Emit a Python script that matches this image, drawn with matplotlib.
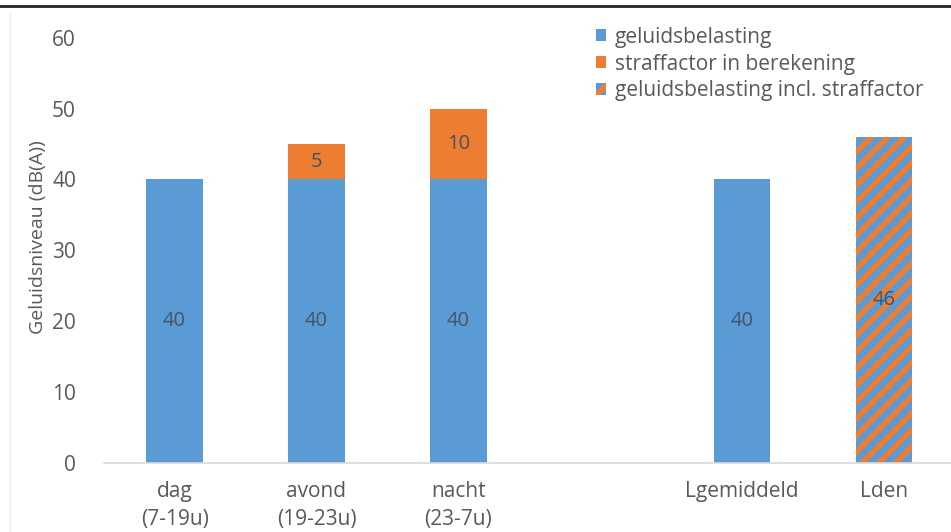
import matplotlib.pyplot as plt
from matplotlib.patches import Patch
from matplotlib.lines import Line2D

# data
categories = ["dag\n(7-19u)", "avond\n(19-23u)", "nacht\n(23-7u)", "", "Lgemiddeld", "Lden"]
geluid = [40, 40, 40, None, 40, None]
straf = [None, 5, 10, None, None, None]
lden = [None, None, None, None, None, 46]
yticks = [0, 10, 20, 30, 40, 50, 60]

blue = "#5B9BD5"
orange = "#ED7D31"
grey = "#595959"

plt.rcParams["font.family"] = ["Open Sans", "DejaVu Sans"]
plt.rcParams["hatch.linewidth"] = 4.5

fig = plt.figure(figsize=(9.51, 5.32), dpi=100)
ax = fig.add_axes([0.109, 0.13, 0.895, 0.799])

x = list(range(len(categories)))
w = 0.4
lbl = dict(ha="center", va="center", fontsize=14.5, color="#44546A", zorder=3)

for i in x:
    if geluid[i] is not None:
        ax.bar(i, geluid[i], width=w, color=blue, zorder=2)
        ax.text(i, geluid[i] / 2, str(geluid[i]), **lbl)
    if straf[i] is not None:
        ax.bar(i, straf[i], width=w, bottom=geluid[i], color=orange, zorder=2)
        ax.text(i, geluid[i] + straf[i] / 2, str(straf[i]), **lbl)
    if lden[i] is not None:
        ax.bar(i, lden[i], width=w, facecolor=orange, edgecolor=blue,
               hatch="//", linewidth=0, zorder=2)
        ax.text(i, lden[i] / 2, str(lden[i]), **lbl)

ax.set_xlim(-0.5, len(categories) - 0.5)
ax.set_ylim(0, 60)
ax.set_yticks(yticks)
ax.set_xticks(x)
ax.set_xticklabels(categories, linespacing=1.45)
ax.tick_params(axis="both", length=0, colors=grey, labelsize=15, pad=13)
ax.tick_params(axis="y", pad=20)
for s in ["top", "right", "left"]:
    ax.spines[s].set_visible(False)
ax.spines["bottom"].set_color("#D9D9D9")
ax.spines["bottom"].set_linewidth(1.2)
ax.set_ylabel("Geluidsniveau (dB(A))", color=grey, fontsize=14)
ax.yaxis.set_label_coords(-0.066, 0.53)

handles = [
    Patch(facecolor=blue, label="geluidsbelasting"),
    Patch(facecolor=orange, label="straffactor in berekening"),
    Patch(facecolor=orange, edgecolor=blue, hatch="//", linewidth=0,
          label="geluidsbelasting incl. straffactor"),
]
leg = ax.legend(handles=handles, loc="upper right", bbox_to_anchor=(0.985, 1.07),
                frameon=False, fontsize=15, handlelength=0.5, handleheight=0.5,
                handletextpad=0.4, labelspacing=0.28, labelcolor=grey)

# frame lines of the picture
fig.add_artist(Line2D([0, 1], [0.988, 0.988], color="#222222", linewidth=2,
                      transform=fig.transFigure))
fig.add_artist(Line2D([0.011, 0.011], [0, 0.975], color="#EEEEEE", linewidth=1,
                      transform=fig.transFigure))

fig.savefig("out.png", dpi=100)
